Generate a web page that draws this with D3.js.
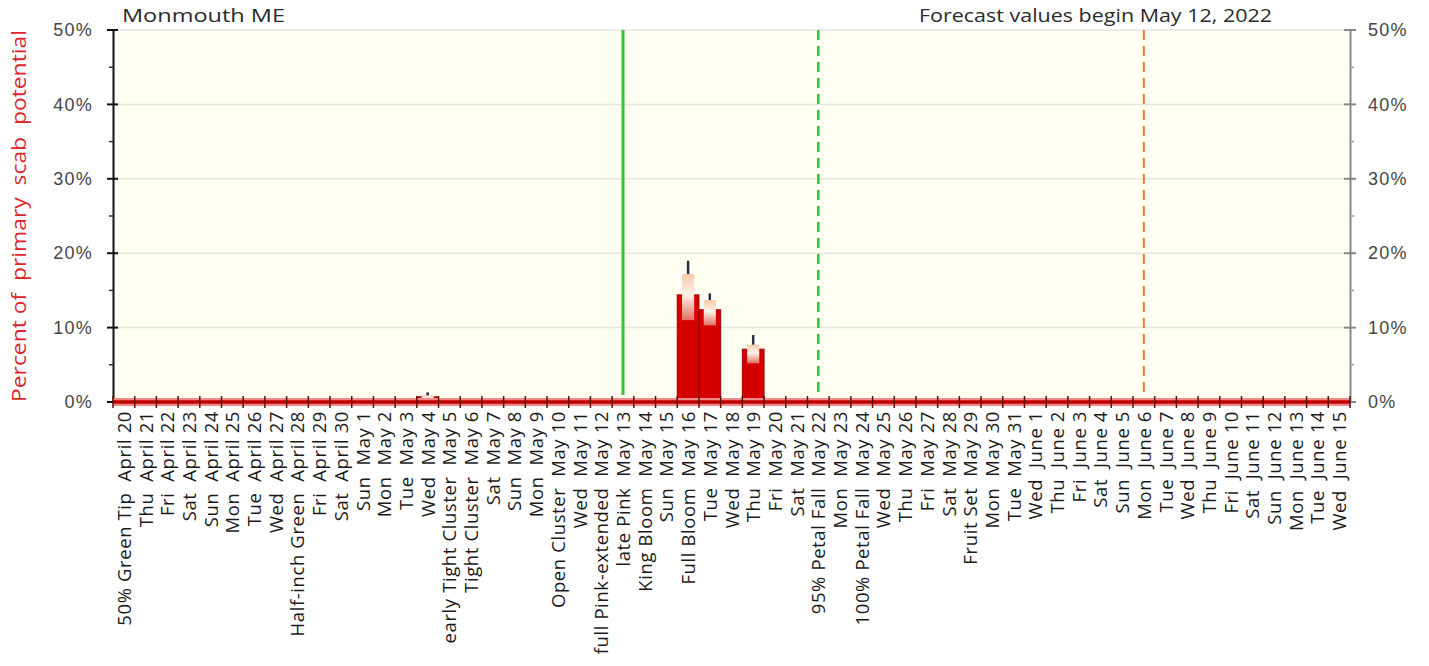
<!DOCTYPE html>
<html><head><meta charset="utf-8">
<script src="https://cdn.jsdelivr.net/npm/d3@7"></script>
<style>
html,body{margin:0;padding:0;background:#fff;}
svg text{white-space:pre;}
</style></head>
<body>
<svg id="chart" width="1429" height="666"></svg>
<script>
// ---- data ----
const categories = [
 "50% Green Tip  April 20","Thu  April 21","Fri  April 22","Sat  April 23","Sun  April 24",
 "Mon  April 25","Tue  April 26","Wed  April 27","Half-inch Green  April 28","Fri  April 29",
 "Sat  April 30","Sun  May 1","Mon  May 2","Tue  May 3","Wed  May 4",
 "early Tight Cluster  May 5","Tight Cluster  May 6","Sat  May 7","Sun  May 8","Mon  May 9",
 "Open Cluster  May 10","Wed  May 11","full Pink-extended  May 12","late Pink  May 13","King Bloom  May 14",
 "Sun  May 15","Full Bloom  May 16","Tue  May 17","Wed  May 18","Thu  May 19",
 "Fri  May 20","Sat  May 21","95% Petal Fall  May 22","Mon  May 23","100% Petal Fall  May 24",
 "Wed  May 25","Thu  May 26","Fri  May 27","Sat  May 28","Fruit Set  May 29",
 "Mon  May 30","Tue  May 31","Wed  June 1","Thu  June 2","Fri  June 3",
 "Sat  June 4","Sun  June 5","Mon  June 6","Tue  June 7","Wed  June 8",
 "Thu  June 9","Fri  June 10","Sat  June 11","Sun  June 12","Mon  June 13",
 "Tue  June 14","Wed  June 15"
];
// percent of primary scab potential (red bars)
const values = [0,0,0,0,0,0,0.1,0,0,0,0,0,0,0,0.7,0,0,0,0,0,0,0,0,0,0.2,0,14.4,12.4,0,7.1,0.1,0,0.1,0,0,0,0,0,0,0,0,0,0,0,0,0,0,0,0,0,0,0,0,0,0,0,0];
// uncertainty range (low / high) and whisker top
const rangeLow  = {14:0.3, 26:11.0, 27:10.3, 29:5.2};
const rangeHigh = {14:0.9, 26:17.2, 27:13.7, 29:7.7};
const whiskerTop = {14:1.3, 26:19.0, 27:14.6, 29:9.0};
const yTicks = [0,10,20,30,40,50];
const greenSolidAt = "late Pink  May 13";
const greenDashedAt = "95% Petal Fall  May 22";
const orangeDashedAt = "Mon  June 6";
const locationText = "Monmouth ME";
const forecastText = "Forecast values begin May 12, 2022";
const yLabel = "Percent of  primary  scab  potential";

// ---- layout ----
const L = 113, R = 1350, T = 30, B = 402;
const svg = d3.select("#chart");
const x = d3.scaleBand().domain(categories).range([L, R]).padding(0);
const y = d3.scaleLinear().domain([0, 50]).range([B, T]);
const font = "'Open Sans', sans-serif";
const tickFont = "Arial, 'Liberation Sans', sans-serif";

// plot background
svg.append("rect").attr("x", L).attr("y", T).attr("width", R - L).attr("height", B - T).attr("fill", "#fefef1");

// gridlines
svg.append("g").selectAll("line").data(yTicks.filter(d => d > 0)).join("line")
  .attr("x1", L).attr("x2", R).attr("y1", d => y(d)).attr("y2", d => y(d))
  .attr("stroke", "#e6e6e0").attr("stroke-width", 1.5);

// left axis
const leftAxis = d3.axisLeft(y).tickValues(yTicks).tickFormat(d => d + "%").tickSize(0).tickPadding(20);
const gl = svg.append("g").attr("transform", `translate(${L},0)`).call(leftAxis);
gl.select(".domain").attr("stroke", "#111").attr("stroke-width", 2);
gl.selectAll("text").attr("font-family", tickFont).attr("font-size", 18).attr("letter-spacing", 1.2).attr("fill", "#454545");
svg.append("g").selectAll("line").data(yTicks).join("line")
  .attr("x1", L - 6).attr("x2", L + 5).attr("y1", d => y(d)).attr("y2", d => y(d)).attr("stroke", "#111").attr("stroke-width", 2);
svg.append("g").selectAll("line").data(d3.range(5, 50, 10)).join("line")
  .attr("x1", L - 4).attr("x2", L).attr("y1", d => y(d)).attr("y2", d => y(d)).attr("stroke", "#333").attr("stroke-width", 1.5);

// right axis
const rightAxis = d3.axisRight(y).tickValues(yTicks).tickFormat(d => d + "%").tickSize(0).tickPadding(18);
const gr = svg.append("g").attr("transform", `translate(${R},0)`).call(rightAxis);
gr.select(".domain").attr("stroke", "#888").attr("stroke-width", 2);
gr.selectAll("text").attr("font-family", tickFont).attr("font-size", 18).attr("letter-spacing", 1.2).attr("fill", "#454545");
svg.append("g").selectAll("line").data(yTicks).join("line")
  .attr("x1", R - 6).attr("x2", R + 6).attr("y1", d => y(d)).attr("y2", d => y(d)).attr("stroke", "#888").attr("stroke-width", 2);
svg.append("g").selectAll("line").data(d3.range(5, 50, 10)).join("line")
  .attr("x1", R).attr("x2", R + 4).attr("y1", d => y(d)).attr("y2", d => y(d)).attr("stroke", "#999").attr("stroke-width", 1.5);

// vertical markers
function vline(cat, color, dash, width, y2) {
  const cx = x(cat) + x.bandwidth() / 2;
  svg.append("line").attr("x1", cx).attr("x2", cx).attr("y1", T).attr("y2", y2)
    .attr("stroke", color).attr("stroke-width", width).attr("stroke-dasharray", dash);
}
vline(greenSolidAt, "#3cbf3c", null, 3, 395);
vline(greenDashedAt, "#3cbf3c", "10,6", 2.5, 395);
vline(orangeDashedAt, "#f07838", "10,6", 2, 400);

// gradient for uncertainty range
const defs = svg.append("defs");
const grad = defs.append("linearGradient").attr("id", "rng").attr("x1", 0).attr("x2", 0).attr("y1", 0).attr("y2", 1);
grad.append("stop").attr("offset", "0%").attr("stop-color", "#f6c9a8");
grad.append("stop").attr("offset", "45%").attr("stop-color", "#fff3ea");
grad.append("stop").attr("offset", "100%").attr("stop-color", "#e07060");

// bars
const bw = x.bandwidth();
svg.append("g").selectAll("rect").data(categories.map((c, i) => ({c, v: values[i]})).filter(d => d.v > 0)).join("rect")
  .attr("x", d => x(d.c)).attr("width", bw)
  .attr("y", d => y(d.v)).attr("height", d => B - y(d.v))
  .attr("fill", "#d40000").attr("stroke", "#a00000").attr("stroke-width", 1);

// uncertainty ranges + whiskers
const rIdx = Object.keys(rangeLow).map(Number);
svg.append("g").selectAll("rect").data(rIdx).join("rect")
  .attr("x", i => x(categories[i]) + bw * 0.22).attr("width", bw * 0.56)
  .attr("y", i => y(rangeHigh[i])).attr("height", i => y(rangeLow[i]) - y(rangeHigh[i]))
  .attr("fill", "url(#rng)");
svg.append("g").selectAll("line").data(rIdx).join("line")
  .attr("x1", i => x(categories[i]) + bw / 2).attr("x2", i => x(categories[i]) + bw / 2)
  .attr("y1", i => y(whiskerTop[i])).attr("y2", i => y(rangeHigh[i]))
  .attr("stroke", "#2a3048").attr("stroke-width", 2.5);

// baseline (thick red)
svg.append("line").attr("x1", L).attr("x2", R).attr("y1", B).attr("y2", B).attr("stroke", "#ef8a8a").attr("stroke-width", 8);
svg.append("line").attr("x1", L).attr("x2", R).attr("y1", B).attr("y2", B).attr("stroke", "#c00000").attr("stroke-width", 3.5);

// x ticks at category boundaries
const bounds = categories.map(c => x(c)).concat([R]);
svg.append("g").selectAll("line").data(bounds).join("line")
  .attr("x1", d => d).attr("x2", d => d).attr("y1", B - 6).attr("y2", B + 6)
  .attr("stroke", "#5a1010").attr("stroke-width", 1.5);

// x labels (rotated)
svg.append("g").selectAll("text").data(categories).join("text")
  .attr("transform", d => `translate(${x(d) + bw / 2 + 7},411) rotate(-90)`)
  .attr("text-anchor", "end")
  .attr("font-family", font).attr("font-size", 18.5).attr("letter-spacing", 0.6).attr("fill", "#1a1a1a")
  .text(d => d);

// header texts
svg.append("text").attr("x", 122).attr("y", 22).attr("font-family", font).attr("font-size", 18).attr("fill", "#2a2a2a")
  .attr("textLength", 163).attr("lengthAdjust", "spacingAndGlyphs").text(locationText);
svg.append("text").attr("x", 919).attr("y", 22).attr("font-family", font).attr("font-size", 18).attr("fill", "#2a2a2a")
  .attr("textLength", 353).attr("lengthAdjust", "spacingAndGlyphs").text(forecastText);

// y axis title
svg.append("text").attr("transform", "translate(26,216) rotate(-90)").attr("text-anchor", "middle")
  .attr("font-family", font).attr("font-size", 20).attr("fill", "#d8262a")
  .attr("textLength", 372).attr("lengthAdjust", "spacingAndGlyphs").text(yLabel);
</script>
</body></html>
